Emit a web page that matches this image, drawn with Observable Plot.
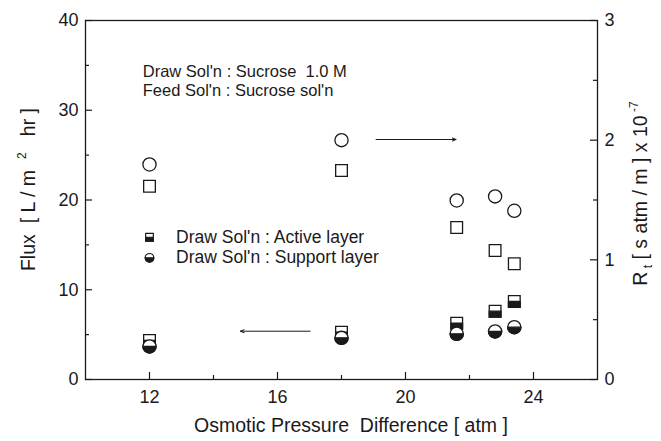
<!DOCTYPE html>
<html><head><meta charset="utf-8">
<script src="https://cdn.jsdelivr.net/npm/d3@7"></script>
<script src="https://cdn.jsdelivr.net/npm/@observablehq/plot@0.6"></script>
<style>
body{margin:0;background:#fff}
svg text{white-space:pre}
</style>
</head><body><div id="chart"></div>
<script>
// ---- data ----
const pressure    = [12, 18, 21.6, 22.8, 23.4];          // atm
const fluxActive  = [4.35, 5.27, 6.27, 7.61, 8.69];      // L/m2 hr, half-filled squares
const fluxSupport = [3.68, 4.64, 5.09, 5.35, 5.83];      // L/m2 hr, half-filled circles
const rtActive    = [1.615, 1.747, 1.27, 1.078, 0.967];  // R_t x1e-7, open squares
const rtSupport   = [1.797, 2.0, 1.496, 1.53, 1.41];     // R_t x1e-7, open circles
const xTicks = [12, 16, 20, 24];
const xMinor = [14, 18, 22];
const yTicks = [0, 10, 20, 30, 40];
const yMinor = [5, 15, 25, 35];
const rTicks = [0, 1, 2, 3];
const rMinor = [0.5, 1.5, 2.5];
const xDomain = [10, 26];
const yDomain = [0, 40];
const rDomain = [0, 3];
const noteLines = ["Draw Sol'n : Sucrose  1.0 M", "Feed Sol'n : Sucrose sol'n"];
const legendLabels = ["Draw Sol'n : Active layer", "Draw Sol'n : Support layer"];

// ---- layout ----
const W = 661, H = 441;
const mL = 85, mR = 64, mT = 20, mB = 62;
const K = yDomain[1] / rDomain[1];                 // right axis -> left axis units
const ux = (xDomain[1] - xDomain[0]) / (W - mL - mR); // data units per px (x)
const uy = (yDomain[1] - yDomain[0]) / (H - mT - mB); // data units per px (y)
const INK = "#1a1a1a";
const FONT = "'Liberation Sans', Arial, sans-serif";

const rows = pressure.map((p, i) => ({
  p, fa: fluxActive[i], fs: fluxSupport[i], ra: rtActive[i] * K, rs: rtSupport[i] * K
}));

// custom half symbols (lower half)
const halfCircle = {draw(ctx, size) { const r = Math.sqrt(size / Math.PI); ctx.moveTo(r, 0); ctx.arc(0, 0, r, 0, Math.PI); ctx.closePath(); }};
const halfSquare = {draw(ctx, size) { const w = Math.sqrt(size) / 2; ctx.rect(-w, 0, 2 * w, w); }};

const R = 6.6, RL = 4.3;
const noteX = 11.79, noteY = [34.25, 32.2];
const legX = 12, legTextX = 12.83, legY = [15.85, 13.56];
const arrowR = {x1: 19.08, x2: 21.58, y: 26.74};
const arrowL = {x1: 17.02, x2: 14.84, y: 5.38};

const chart = Plot.plot({
  width: W, height: H,
  marginLeft: mL, marginRight: mR, marginTop: mT, marginBottom: mB,
  style: {fontFamily: FONT, fontSize: "18px", color: INK, background: "#fff"},
  x: {domain: xDomain},
  y: {domain: yDomain},
  marks: [
    Plot.frame({stroke: INK, strokeWidth: 1.3}),
    // axis labels
    Plot.axisX(xTicks, {tickSize: 0, tickPadding: 11, fontSize: 18, label: null}),
    Plot.axisY(yTicks, {anchor: "left", tickSize: 0, tickPadding: 7, fontSize: 18, label: null}),
    Plot.axisY(rTicks.map(v => v * K), {anchor: "right", tickSize: 0, tickPadding: 7, fontSize: 18, label: null,
      tickFormat: d => String(Math.round(d / K))}),
    // inward ticks
    Plot.ruleY(yTicks, {x1: xDomain[0], x2: xDomain[0] + 7 * ux, stroke: INK, strokeWidth: 1.2}),
    Plot.ruleY(yMinor, {x1: xDomain[0], x2: xDomain[0] + 4 * ux, stroke: INK, strokeWidth: 1.2}),
    Plot.ruleY(rTicks.map(v => v * K), {x1: xDomain[1] - 7 * ux, x2: xDomain[1], stroke: INK, strokeWidth: 1.2}),
    Plot.ruleY(rMinor.map(v => v * K), {x1: xDomain[1] - 4 * ux, x2: xDomain[1], stroke: INK, strokeWidth: 1.2}),
    Plot.ruleX(xTicks, {y1: yDomain[0], y2: yDomain[0] + 7 * uy, stroke: INK, strokeWidth: 1.2}),
    Plot.ruleX(xMinor, {y1: yDomain[0], y2: yDomain[0] + 4 * uy, stroke: INK, strokeWidth: 1.2}),
    // open symbols (right axis)
    Plot.dot(rows, {x: "p", y: "rs", r: R, symbol: "circle", fill: "white", stroke: INK, strokeWidth: 1.3}),
    Plot.dot(rows, {x: "p", y: "ra", r: R, symbol: "square", fill: "white", stroke: INK, strokeWidth: 1.3}),
    // half-filled symbols (left axis)
    Plot.dot(rows, {x: "p", y: "fa", r: R, symbol: "square", fill: "white", stroke: INK, strokeWidth: 1.3}),
    Plot.dot(rows, {x: "p", y: "fa", r: R, symbol: halfSquare, fill: INK, stroke: INK, strokeWidth: 1.3}),
    Plot.dot(rows, {x: "p", y: "fs", r: R, symbol: "circle", fill: "white", stroke: INK, strokeWidth: 1.3}),
    Plot.dot(rows, {x: "p", y: "fs", r: R, symbol: halfCircle, fill: INK, stroke: INK, strokeWidth: 1.3}),
    // notes
    Plot.text(noteLines, {x: () => noteX, y: (d, i) => noteY[i], text: d => d, textAnchor: "start", fontSize: 16.5, fill: INK}),
    // legend
    Plot.dot([0], {x: () => legX, y: legY[0], r: RL, symbol: "square", fill: "white", stroke: INK, strokeWidth: 1.2}),
    Plot.dot([0], {x: () => legX, y: legY[0], r: RL, symbol: halfSquare, fill: INK, stroke: INK, strokeWidth: 1.2}),
    Plot.dot([0], {x: () => legX, y: legY[1], r: RL, symbol: "circle", fill: "white", stroke: INK, strokeWidth: 1.2}),
    Plot.dot([0], {x: () => legX, y: legY[1], r: RL, symbol: halfCircle, fill: INK, stroke: INK, strokeWidth: 1.2}),
    Plot.text(legendLabels, {x: () => legTextX, y: (d, i) => legY[i], text: d => d, textAnchor: "start", fontSize: 17.5, fill: INK}),
    // arrows
    Plot.arrow([arrowR, arrowL], {x1: "x1", x2: "x2", y1: "y", y2: "y", stroke: INK, strokeWidth: 1, headLength: 6, headAngle: 45})
  ]
});
document.getElementById("chart").appendChild(chart);

// axis titles with sub/superscripts
const svg = d3.select(chart);
const cx = mL + (W - mL - mR) / 2;
svg.append("text")
  .attr("x", cx + 10).attr("y", 432).attr("text-anchor", "middle")
  .attr("font-family", FONT).attr("font-size", 19.5).attr("fill", INK)
  .text("Osmotic Pressure  Difference [ atm ]");

const lt = svg.append("text")
  .attr("transform", `translate(35,${mT + (H - mT - mB) / 2 - 10}) rotate(-90)`)
  .attr("text-anchor", "middle").attr("font-family", FONT).attr("font-size", 19.5).attr("fill", INK);
lt.append("tspan").text("Flux  [ L / m  ");
lt.append("tspan").attr("font-size", 12).attr("dy", "-0.75em").text("2");
lt.append("tspan").attr("dy", "0.46em").text("   hr ]");

const rt = svg.append("text")
  .attr("transform", `translate(647,${mT + (H - mT - mB) / 2 - 6}) rotate(-90)`)
  .attr("text-anchor", "middle").attr("font-family", FONT).attr("font-size", 19.5).attr("fill", INK);
rt.append("tspan").text("R");
rt.append("tspan").attr("font-size", 12).attr("dy", "0.45em").text(" t");
rt.append("tspan").attr("dy", "-0.28em").text(" [ s atm / m ] x 10");
rt.append("tspan").attr("font-size", 12).attr("dy", "-0.75em").text(" -7");
</script>
</body></html>
